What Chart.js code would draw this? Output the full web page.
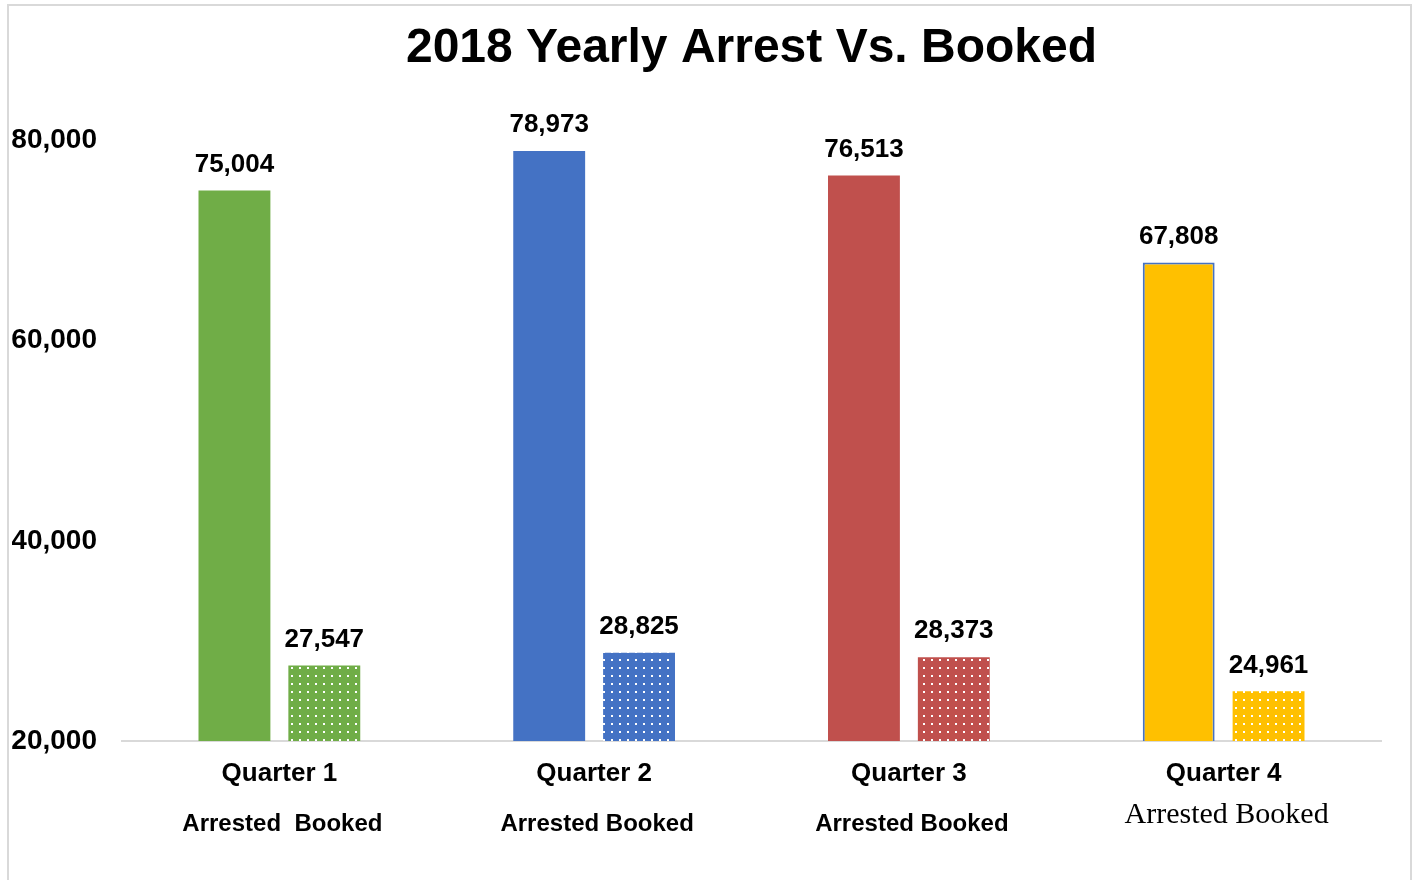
<!DOCTYPE html>
<html>
<head>
<meta charset="utf-8">
<script src="https://cdn.jsdelivr.net/npm/chart.js@4.4.0/dist/chart.umd.min.js"></script>
<style>
  body { margin: 0; background: #fff; }
  #wrap { position: absolute; left: 0; top: 0; width: 1414px; height: 880px; }
  #frame { position: absolute; left: 7px; top: 4px; width: 1401px; height: 900px;
           border: 2px solid #d9d9d9; border-bottom: none; }
  canvas { position: absolute; left: 0; top: 0; }
</style>
</head>
<body>
<div id="wrap">
  <div id="frame"></div>
  <canvas id="chart" width="1414" height="880"></canvas>
</div>
<script>
const quarters = ["Quarter 1", "Quarter 2", "Quarter 3", "Quarter 4"];
const subLabels = ["Arrested  Booked", "Arrested Booked", "Arrested Booked", "Arrested Booked"];
const arrested = [75004, 78973, 76513, 67808];
const booked = [27547, 28825, 28373, 24961];
const yTicks = [20000, 40000, 60000, 80000];

const colors = ["#70AD47", "#4472C4", "#C0504D", "#FFC000"];

// dotted fill for the booked bars
function dotPattern(color) {
  const c = document.createElement("canvas");
  c.width = 8;
  c.height = 8;
  const g = c.getContext("2d");
  g.fillStyle = color;
  g.fillRect(0, 0, 8, 8);
  g.fillStyle = "#ffffff";
  g.fillRect(3, 3, 2, 2);
  return g.createPattern(c, "repeat");
}

const ctx = document.getElementById("chart").getContext("2d");
Chart.defaults.color = "#000";
Chart.defaults.font.family = "'Liberation Sans', Arial, sans-serif";

const valueLabels = {
  id: "valueLabels",
  afterDatasetsDraw(chart) {
    const c = chart.ctx;
    c.save();
    c.font = "bold 26px 'Liberation Sans', Arial, sans-serif";
    c.fillStyle = "#000";
    c.textAlign = "center";
    c.textBaseline = "middle";
    chart.data.datasets.forEach((ds, di) => {
      chart.getDatasetMeta(di).data.forEach((bar, i) => {
        c.fillText(ds.data[i].toLocaleString("en-US"), bar.x, bar.y - 26);
      });
    });
    c.restore();
  },
};

const subAxisLabels = {
  id: "subAxisLabels",
  afterDraw(chart) {
    const c = chart.ctx;
    const x = chart.scales.x;
    c.save();
    c.fillStyle = "#000";
    c.textAlign = "center";
    c.textBaseline = "middle";
    subLabels.forEach((txt, i) => {
      if (i === 3) {
        c.font = "30px 'Liberation Serif', 'Times New Roman', serif";
        c.fillText(txt, x.getPixelForValue(i) + 3, x.bottom + 27);
      } else {
        c.font = "bold 24px 'Liberation Sans', Arial, sans-serif";
        c.fillText(txt, x.getPixelForValue(i) + 3, x.bottom + 36);
      }
    });
    c.restore();
  },
};

new Chart(ctx, {
  type: "bar",
  data: {
    labels: quarters,
    datasets: [
      {
        label: "Arrested",
        data: arrested,
        backgroundColor: colors,
        borderColor: colors.map((c, i) => (i === 3 ? "#4472C4" : c)),
        borderWidth: colors.map((c, i) => (i === 3 ? 2 : 0)),
        categoryPercentage: 0.571,
        barPercentage: 0.8,
      },
      {
        label: "Booked",
        data: booked,
        backgroundColor: colors.map(dotPattern),
        borderWidth: 0,
        categoryPercentage: 0.571,
        barPercentage: 0.8,
      },
    ],
  },
  options: {
    responsive: false,
    animation: false,
    layout: {
      padding: { left: 12, right: 33, top: 0, bottom: 92 },
    },
    plugins: {
      legend: { display: false },
      tooltip: { enabled: false },
      title: {
        display: true,
        fullSize: false,
        text: "2018 Yearly Arrest Vs. Booked",
        font: { size: 48, weight: "bold" },
        color: "#000",
        padding: { top: 20, bottom: 63 },
      },
    },
    scales: {
      x: {
        grid: { display: false, drawTicks: false, tickLength: 0 },
        border: { display: true, color: "#d9d9d9", width: 2 },
        ticks: {
          font: { size: 26, weight: "bold" },
          padding: 17,
        },
        afterFit: (scale) => {
          scale.height = 47;
        },
      },
      y: {
        min: 20000,
        max: 80000,
        afterBuildTicks: (scale) => {
          scale.ticks = yTicks.map((v) => ({ value: v }));
        },
        afterFit: (scale) => {
          scale.width = 110;
        },
        grid: { display: false, drawTicks: false, tickLength: 0 },
        border: { display: false },
        ticks: {
          font: { size: 28, weight: "bold" },
          padding: 25,
          callback: (v) => v.toLocaleString("en-US"),
        },
      },
    },
  },
  plugins: [valueLabels, subAxisLabels],
});
</script>
</body>
</html>
